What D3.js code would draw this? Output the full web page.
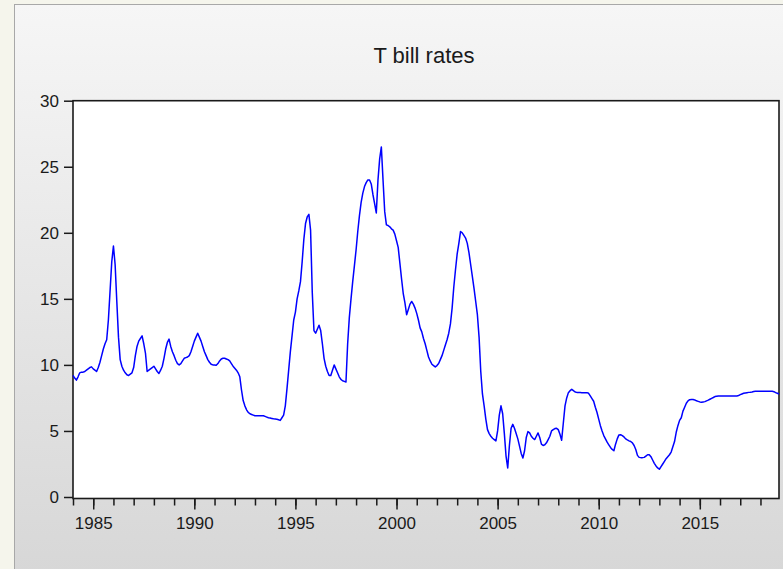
<!DOCTYPE html>
<html>
<head>
<meta charset="utf-8">
<script src="https://cdn.jsdelivr.net/npm/d3@7"></script>
<style>
  html, body { margin: 0; padding: 0; background: #f5f5ec; }
  svg { display: block; }
  text { font-family: "Liberation Sans", Arial, sans-serif; fill: #1a1a1a; }
</style>
</head>
<body>
<svg id="chart" width="783" height="569"></svg>
<script>
// ---- data (monthly, 1984M01 - 2018M12) ----
const title = "T bill rates";
const startYear = 1984;
const rates1984_1991 = [
  9.2, 9.0, 8.85, 9.1, 9.4, 9.45, 9.45, 9.5, 9.6, 9.7, 9.8, 9.85,
  9.7, 9.6, 9.5, 9.8, 10.2, 10.7, 11.2, 11.6, 11.9, 13.4, 15.6, 17.8,
  19.0, 17.6, 14.8, 12.1, 10.4, 9.9, 9.6, 9.4, 9.25, 9.2, 9.3, 9.4,
  9.8, 10.7, 11.4, 11.8, 12.0, 12.2, 11.6, 10.9, 9.5, 9.6, 9.7, 9.8,
  9.9, 9.7, 9.5, 9.35, 9.6, 9.9, 10.5, 11.2, 11.7, 11.95, 11.4, 11.0,
  10.7, 10.35, 10.1, 10.0, 10.1, 10.3, 10.5, 10.55, 10.6, 10.7, 11.0, 11.4,
  11.8, 12.1, 12.4, 12.1, 11.8, 11.4, 11.0, 10.7, 10.4, 10.2, 10.05, 10.0,
  10.0, 9.97, 10.1, 10.3, 10.45, 10.5, 10.5, 10.45, 10.4, 10.3, 10.1, 9.9
];
const rates1992_1999 = [
  9.75, 9.6, 9.4, 9.1, 8.1, 7.3, 6.9, 6.6, 6.4, 6.3, 6.25, 6.2,
  6.15, 6.15, 6.15, 6.15, 6.15, 6.15, 6.1, 6.05, 6.0, 5.98, 5.95, 5.92,
  5.9, 5.88, 5.85, 5.8, 6.0, 6.2, 6.9, 8.2, 9.6, 11.0, 12.2, 13.4,
  14.0, 15.0, 15.6, 16.3, 17.8, 19.5, 20.7, 21.2, 21.4, 20.2, 15.5, 12.6,
  12.4, 12.7, 13.0, 12.6, 11.6, 10.5, 9.9, 9.5, 9.2, 9.2, 9.6, 10.0,
  9.7, 9.4, 9.1, 8.9, 8.8, 8.75, 8.7, 11.6, 13.6, 15.0, 16.3, 17.5,
  18.7, 20.1, 21.3, 22.3, 23.0, 23.5, 23.8, 24.0, 24.0, 23.7, 22.9, 22.2,
  21.5, 24.0, 25.6, 26.5, 24.0, 21.6, 20.6, 20.55, 20.45, 20.3, 20.2, 19.9
];
const rates2000_2007 = [
  19.4, 18.9, 17.7, 16.5, 15.4, 14.7, 13.8, 14.2, 14.6, 14.8, 14.6, 14.3,
  13.9, 13.4, 12.8, 12.5, 12.0, 11.6, 11.1, 10.6, 10.3, 10.05, 9.95, 9.85,
  9.95, 10.1, 10.4, 10.7, 11.1, 11.5, 11.9, 12.4, 13.1, 14.3, 15.9, 17.2,
  18.4, 19.2, 20.1, 20.0, 19.8, 19.6, 19.2, 18.5, 17.6, 16.7, 15.8, 14.8,
  13.8, 12.1, 9.5, 7.8, 6.9, 5.9, 5.1, 4.8, 4.6, 4.45, 4.35, 4.25,
  5.0, 6.2, 6.9, 6.3, 4.8, 3.1, 2.2, 3.9, 5.2, 5.5, 5.2, 4.8,
  4.4, 3.85, 3.3, 2.95, 3.5, 4.5, 4.95, 4.85, 4.6, 4.45, 4.35, 4.6,
  4.85, 4.5, 4.0, 3.9, 3.95, 4.1, 4.35, 4.6, 5.0, 5.1, 5.18, 5.2
];
const rates2008_2018 = [
  5.1, 4.75, 4.3, 5.6, 6.9, 7.5, 7.9, 8.05, 8.15, 8.05, 7.95, 7.92,
  7.92, 7.91, 7.9, 7.9, 7.9, 7.9, 7.85, 7.65, 7.45, 7.25, 6.8, 6.4,
  5.9, 5.4, 5.0, 4.65, 4.4, 4.15, 3.95, 3.75, 3.6, 3.5, 4.0, 4.4,
  4.7, 4.72, 4.65, 4.55, 4.4, 4.32, 4.25, 4.2, 4.1, 3.9, 3.6, 3.15,
  3.0, 2.98, 2.98, 3.0, 3.1, 3.2, 3.2, 3.05, 2.8, 2.55, 2.35, 2.2,
  2.1, 2.3, 2.5, 2.7, 2.9, 3.05, 3.2, 3.4, 3.8, 4.2, 4.9, 5.4,
  5.8, 6.0, 6.5, 6.8, 7.1, 7.28, 7.37, 7.38, 7.38, 7.35, 7.28, 7.24,
  7.2, 7.18, 7.2, 7.22, 7.28, 7.33, 7.4, 7.47, 7.53, 7.6, 7.63, 7.65,
  7.65, 7.65, 7.65, 7.65, 7.65, 7.65, 7.65, 7.65, 7.65, 7.65, 7.65, 7.68,
  7.75, 7.8, 7.85, 7.88, 7.9, 7.92, 7.93, 7.95, 7.98, 8.0, 8.0, 8.0,
  8.0, 8.0, 8.0, 8.0, 8.0, 8.0, 8.0, 8.0, 7.97, 7.9, 7.85, 7.8
];
const yTickValues = [0, 5, 10, 15, 20, 25, 30];
const xMajorYears = [1985, 1990, 1995, 2000, 2005, 2010, 2015];
const xMinorYears = d3.range(1984, 2019);

const rates = [].concat(rates1984_1991, rates1992_1999, rates2000_2007, rates2008_2018);
const series = rates.map((v, i) => ({ t: startYear + i / 12, v }));

// ---- layout ----
const svg = d3.select("#chart");
const W = 783, H = 569;
const plot = { left: 73, right: 779, top: 100.7, bottom: 497 };

const defs = svg.append("defs");
const grad = defs.append("linearGradient").attr("id", "panelGrad")
  .attr("x1", 0).attr("y1", 0).attr("x2", 0).attr("y2", 1);
grad.append("stop").attr("offset", "0%").attr("stop-color", "#f6f6f6");
grad.append("stop").attr("offset", "100%").attr("stop-color", "#d7d7d7");

// outer slide background
svg.append("rect").attr("width", W).attr("height", H).attr("fill", "#f5f5ec");
// grey panel
svg.append("rect").attr("x", 14.5).attr("y", 4.5).attr("width", W).attr("height", H)
  .attr("fill", "url(#panelGrad)").attr("stroke", "#a8a8a8").attr("stroke-width", 1);

const x = d3.scaleLinear().domain([startYear, startYear + (rates.length - 1) / 12])
  .range([plot.left, plot.right]);
const y = d3.scaleLinear().domain([0, 30]).range([plot.bottom, plot.top]);

// plot area
svg.append("rect")
  .attr("x", plot.left).attr("y", plot.top)
  .attr("width", plot.right - plot.left).attr("height", plot.bottom + 1.5 - plot.top)
  .attr("fill", "#ffffff").attr("stroke", "#1a1a1a").attr("stroke-width", 1.6);

// title
svg.append("text").attr("x", 424).attr("y", 63).attr("text-anchor", "middle")
  .style("font-size", "22px").text(title);

// y axis
const yAxis = svg.append("g").attr("transform", `translate(${plot.left},0)`)
  .call(d3.axisLeft(y).tickValues(yTickValues).tickSize(9).tickPadding(5).tickFormat(d3.format("d")));
yAxis.select(".domain").remove();
yAxis.selectAll(".tick line").attr("stroke", "#1a1a1a").attr("stroke-width", 1.5);
yAxis.selectAll(".tick text").style("font-size", "17px").attr("fill", "#1a1a1a");

// x axis minor ticks
const xMinor = svg.append("g").attr("transform", `translate(0,${plot.bottom + 1.5})`)
  .call(d3.axisBottom(x).tickValues(xMinorYears).tickSize(7).tickFormat(""));
xMinor.select(".domain").remove();
xMinor.selectAll(".tick line").attr("stroke", "#1a1a1a").attr("stroke-width", 1.5);

// x axis major ticks
const xMajor = svg.append("g").attr("transform", `translate(0,${plot.bottom + 1.5})`)
  .call(d3.axisBottom(x).tickValues(xMajorYears).tickSize(11).tickPadding(7).tickFormat(d3.format("d")));
xMajor.select(".domain").remove();
xMajor.selectAll(".tick line").attr("stroke", "#1a1a1a").attr("stroke-width", 1.5);
xMajor.selectAll(".tick text").style("font-size", "17px").attr("fill", "#1a1a1a");

// series line
const line = d3.line().x(d => x(d.t)).y(d => y(d.v));
svg.append("path").datum(series)
  .attr("d", line)
  .attr("fill", "none")
  .attr("stroke", "#0000ff")
  .attr("stroke-width", 1.5)
  .attr("stroke-linejoin", "round");
</script>
</body>
</html>
